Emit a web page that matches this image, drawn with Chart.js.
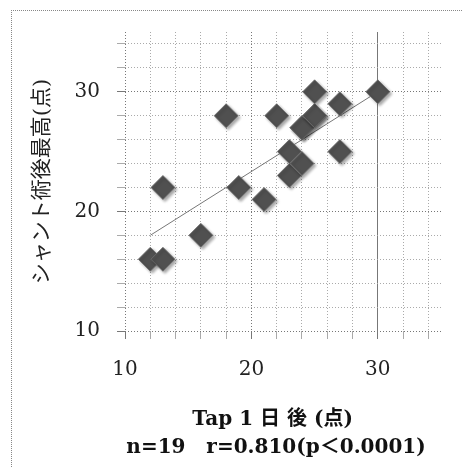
<!DOCTYPE html>
<html>
<head>
<meta charset="utf-8">
<script src="https://cdn.jsdelivr.net/npm/chart.js@4"></script>
<style>
    body { margin: 0; background: #fff; }
    #wrap { position: relative; width: 462px; height: 467px; }
    #frame { position: absolute; left: 11px; top: 10px; right: 0; bottom: 0; border-top: 1px dotted #888; border-left: 1px dotted #888; pointer-events: none; }
    canvas { position: absolute; left: 0; top: 0; }
</style>
</head>
<body>
<div id="wrap">
    <canvas id="scatterChart" width="462" height="467"></canvas>
    <div id="frame"></div>
</div>
<script>
// Tap 1日後 (x) vs シャント術後最高 (y), n=19
const tap1Day   = [12, 13, 13, 16, 18, 19, 21, 22, 23, 23, 24, 24, 24, 25, 25, 25, 27, 27, 30];
const postShunt = [16, 16, 22, 18, 28, 22, 21, 28, 23, 25, 24, 27, 27, 28, 28, 30, 29, 25, 30];

// regression line
const trendX = [12, 30];
const trendY = [18, 30];

const gridSteps = [10, 12, 14, 16, 18, 20, 22, 24, 26, 28, 30, 32, 34];
const tickLabels = [10, 20, 30];

const serif = "'DejaVu Serif', 'Noto Sans CJK JP', serif";

document.addEventListener('DOMContentLoaded', () => {
    const points = tap1Day.map((x, i) => ({ x: x, y: postShunt[i] }));
    const trend = trendX.map((x, i) => ({ x: x, y: trendY[i] }));

    const shadowPlugin = {
        id: 'diamondShadow',
        beforeDatasetDraw(chart, args) {
            if (args.index !== 0) return;
            const ctx = chart.ctx;
            ctx.save();
            ctx.shadowColor = 'rgba(0, 0, 0, 0.35)';
            ctx.shadowBlur = 3;
            ctx.shadowOffsetX = 2;
            ctx.shadowOffsetY = 2;
        },
        afterDatasetDraw(chart, args) {
            if (args.index !== 0) return;
            chart.ctx.restore();
        }
    };

    const gridColor = c => (c.tick && tickLabels.includes(c.tick.value)) ? '#777' : '#aaa';

    const axis = (isX) => ({
        type: 'linear',
        min: 10,
        max: 35,
        afterBuildTicks: s => { s.ticks = gridSteps.map(v => ({ value: v })); },
        afterFit: s => {
            if (isX) s.height = 136; else s.width = 125;
        },
        grid: {
            color: gridColor,
            lineWidth: 1,
            drawTicks: true,
            tickLength: 8,
            tickColor: gridColor
        },
        border: {
            display: false,
            dash: c => (isX && c.tick && c.tick.value === 30) ? [] : [1, 2]
        },
        ticks: {
            padding: isX ? 19 : 17,
            autoSkip: false,
            maxRotation: 0,
            minRotation: 0,
            color: '#222',
            font: { family: serif, size: 20 },
            callback: v => tickLabels.includes(v) ? String(v) : ''
        },
        title: isX ? {
            display: true,
            text: ['Tap 1 日 後 (点)   ', 'n=19   r=0.810(p＜0.0001)  '],
            color: '#111',
            font: { family: serif, size: 20, weight: 'bold', lineHeight: 1.4 },
            padding: { top: 0, bottom: 5 }
        } : {
            display: true,
            text: 'シャント術後最高(点)',
            color: '#222',
            font: { family: serif, size: 21 },
            padding: { top: 30, bottom: 0 }
        }
    });

    new Chart(document.getElementById('scatterChart').getContext('2d'), {
        type: 'scatter',
        data: {
            datasets: [{
                label: 'points',
                data: points,
                pointStyle: 'rectRot',
                pointRadius: 12,
                pointHoverRadius: 12,
                backgroundColor: '#505050',
                borderColor: 'rgba(110, 110, 110, 0.8)',
                borderWidth: 1
            }, {
                type: 'line',
                label: 'trend',
                data: trend,
                borderColor: '#777',
                borderWidth: 1,
                pointRadius: 0,
                fill: false
            }]
        },
        options: {
            responsive: false,
            animation: false,
            layout: { padding: { left: 0, top: 32, right: 21, bottom: 0 } },
            plugins: {
                legend: { display: false },
                tooltip: { enabled: false }
            },
            scales: {
                x: axis(true),
                y: axis(false)
            }
        },
        plugins: [shadowPlugin]
    });
});
</script>
</body>
</html>
